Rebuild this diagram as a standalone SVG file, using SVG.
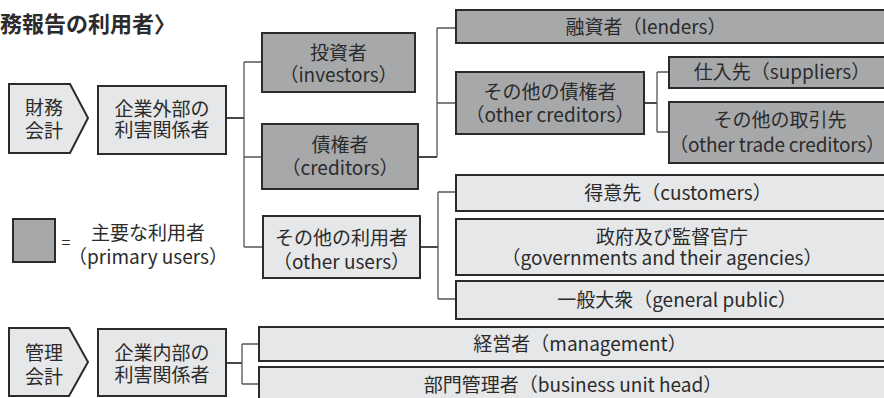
<svg xmlns="http://www.w3.org/2000/svg" width="884" height="398" viewBox="0 0 884 398">
<style>
text{font-family:"Noto Sans CJK JP","Noto Sans",sans-serif;font-size:19px;fill:#2b2b2b;text-anchor:middle}
.title{font-size:22px;font-weight:bold;text-anchor:start}
.p{fill:#a7a8aa;stroke:#2b2b2b;stroke-width:2}
.s{fill:#e6e7e8;stroke:#2b2b2b;stroke-width:2}
.c{fill:none;stroke:#555;stroke-width:1.3}
.m{fill:none;stroke:#333;stroke-width:1.8}
</style>
<rect width="884" height="398" fill="#fff"/>
<text class="title" x="0" y="32">務報告の利用者〉</text>

<g id="connectors">
<path class="m" d="M226 118H244"/>
<path class="c" d="M244 62V247M244 62H262M244 157H262M244 247H263"/>
<path class="m" d="M418 157H437"/>
<path class="c" d="M437 28V157M437 28H456M437 103H456"/>
<path class="m" d="M644 103H657"/>
<path class="c" d="M657 72V132M657 72H669M657 132H669"/>
<path class="m" d="M420 247H438"/>
<path class="c" d="M438 192V299M438 192H456M438 299H456"/>
<path class="m" d="M226 363H242"/>
<path class="c" d="M242 344V384M242 344H259M242 384H259"/>
</g>

<g id="fa">
<path class="s" d="M9 84H70L88 118L70 153H9Z"/>
<text x="44" y="115">財務</text>
<text x="44" y="138">会計</text>
</g>
<g id="external">
<rect class="s" x="98" y="86" width="128" height="68"/>
<text x="162" y="116">企業外部の</text>
<text x="162" y="137">利害関係者</text>
</g>
<g id="investors">
<rect class="p" x="262" y="33" width="153" height="59"/>
<text x="338.5" y="60">投資者</text>
<text x="338.5" y="82">（investors）</text>
</g>
<g id="creditors">
<rect class="p" x="262" y="124" width="156" height="65"/>
<text x="340" y="152">債権者</text>
<text x="340" y="175">（creditors）</text>
</g>
<g id="lenders">
<rect class="p" x="456" y="10" width="440" height="33"/>
<text x="646" y="34">融資者（lenders）</text>
</g>
<g id="othercreditors">
<rect class="p" x="456" y="72" width="188" height="62"/>
<text x="550" y="99">その他の債権者</text>
<text x="550" y="122">（other creditors）</text>
</g>
<g id="suppliers">
<rect class="p" x="669" y="57" width="230" height="31"/>
<text x="782" y="79">仕入先（suppliers）</text>
</g>
<g id="othertrade">
<rect class="p" x="669" y="102" width="230" height="61"/>
<text x="780" y="127">その他の取引先</text>
<text x="777" y="152" style="letter-spacing:-0.2px">（other trade creditors）</text>
</g>
<g id="otherusers">
<rect class="s" x="263" y="216" width="157" height="62"/>
<text x="341.5" y="245">その他の利用者</text>
<text x="341.5" y="269">（other users）</text>
</g>
<g id="customers">
<rect class="s" x="456" y="175" width="440" height="36"/>
<text x="678" y="200">得意先（customers）</text>
</g>
<g id="governments">
<rect class="s" x="456" y="219" width="440" height="56"/>
<text x="672" y="244">政府及び監督官庁</text>
<text x="662" y="265">（governments and their agencies）</text>
</g>
<g id="public">
<rect class="s" x="456" y="281" width="440" height="38"/>
<text x="677" y="307">一般大衆（general public）</text>
</g>

<g id="legend">
<rect class="p" x="13" y="219" width="42" height="43"/>
<text x="66" y="248" style="font-size:16px">=</text>
<text x="148" y="240">主要な利用者</text>
<text x="148" y="264">（primary users）</text>
</g>

<g id="ma">
<path class="s" d="M9 328H69L88 362L69 396H9Z"/>
<text x="44" y="360">管理</text>
<text x="44" y="384">会計</text>
</g>
<g id="internal">
<rect class="s" x="98" y="329" width="128" height="67"/>
<text x="162" y="360">企業内部の</text>
<text x="162" y="382">利害関係者</text>
</g>
<g id="management">
<rect class="s" x="259" y="327" width="640" height="34"/>
<text x="580" y="351">経営者（management）</text>
</g>
<g id="unithead">
<rect class="s" x="259" y="367" width="640" height="40"/>
<text x="573" y="392">部門管理者（business unit head）</text>
</g>
</svg>
